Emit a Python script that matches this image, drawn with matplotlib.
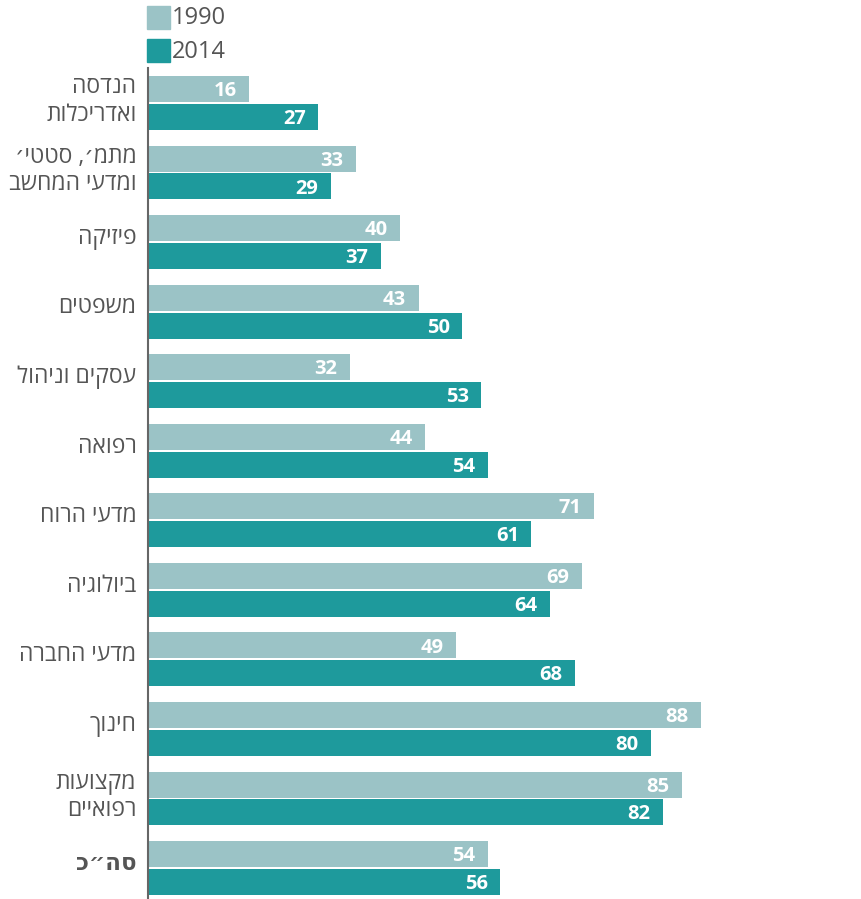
import numpy as np
import matplotlib.pyplot as plt

# Hebrew category labels (logical order), top to bottom
categories = ["הנדסה\nואדריכלות", "מתמ׳, סטטי׳\nומדעי המחשב", "פיזיקה", "משפטים",
              "עסקים וניהול", "רפואה", "מדעי הרוח", "ביולוגיה", "מדעי החברה",
              "חינוך", "מקצועות\nרפואיים", "סה״כ"]
vals_1990 = [16, 33, 40, 43, 32, 44, 71, 69, 49, 88, 85, 54]
vals_2014 = [27, 29, 37, 50, 53, 54, 61, 64, 68, 80, 82, 56]
series_names = ["1990", "2014"]

c_light = "#9bc3c6"
c_dark = "#1e9a9c"
c_text = "#555555"
fams = ["Open Sans", "DejaVu Sans"]
plt.rcParams['font.family'] = fams


def rtl(s):
    # matplotlib has no bidi, so flip each line by hand
    return "\n".join(line[::-1] for line in s.split("\n"))


W, H = 862, 899
fig = plt.figure(figsize=(W / 100, H / 100), dpi=100)
ax = fig.add_axes([149 / W, 0, (W - 149) / W, (899 - 68) / H])

y = np.arange(len(categories))
bh = 0.374
off = 0.2
b1 = ax.barh(y - off, vals_1990, height=bh, color=c_light)
b2 = ax.barh(y + off, vals_2014, height=bh, color=c_dark)

ax.set_xlim(0, (W - 149) / 6.27)
ax.set_ylim(11.446, -0.503)

for bars, vals in ((b1, vals_1990), (b2, vals_2014)):
    for rect, v in zip(bars, vals):
        ax.annotate(str(v), (v, rect.get_y() + rect.get_height() / 2),
                    xytext=(-9, -1.5), textcoords="offset points",
                    ha="right", va="center", color="white",
                    fontsize=14.5, fontweight="bold")

for i, cat in enumerate(categories):
    dy = 1.5 if "\n" in cat else 3
    ax.annotate(rtl(cat), (0, i), xytext=(-9, dy), textcoords="offset points",
                ha="right", va="center", multialignment="right",
                fontsize=16.5, color=c_text, linespacing=1.2,
                fontweight="bold" if i == len(categories) - 1 else "normal",
                annotation_clip=False)

ax.set_xticks([])
ax.set_yticks([])
for s in ["top", "right", "bottom"]:
    ax.spines[s].set_visible(False)
ax.spines["left"].set_color("#666666")
ax.spines["left"].set_linewidth(1.5)
ax.spines["left"].set_position(("outward", 1))

# legend drawn as squares + text at the top
for k, (name, col) in enumerate(zip(series_names, [c_light, c_dark])):
    top = 6 + k * 33
    fig.patches.append(plt.Rectangle((147 / W, 1 - (top + 23) / H), 23 / W, 23 / H,
                                     transform=fig.transFigure, color=col))
    fig.text(172 / W, 1 - (top + 12.5) / H, name, ha="left", va="center",
             fontsize=17, color=c_text)

fig.savefig("out.png", dpi=100)
